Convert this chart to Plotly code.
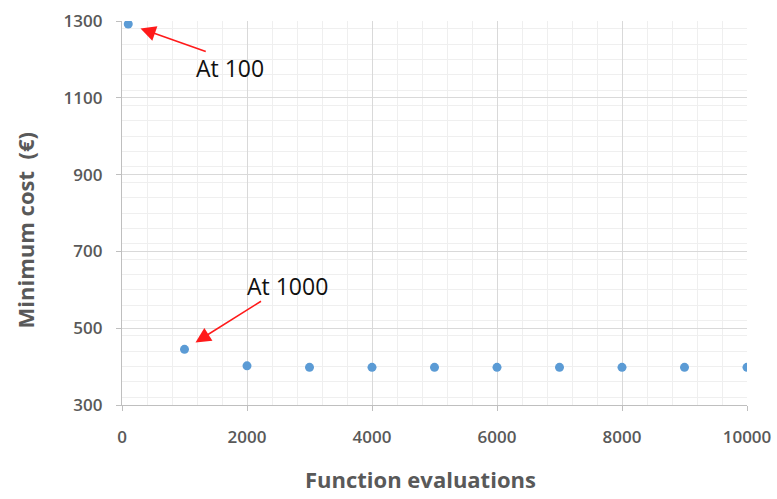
import plotly.graph_objects as go

# Minimum cost found versus number of function evaluations
evaluations = [100, 1000, 2000, 3000, 4000, 5000, 6000, 7000, 8000, 9000, 10000]
min_cost = [1292, 445, 402, 398, 398, 398, 398, 398, 398, 398, 398]

x_ticks = [0, 2000, 4000, 6000, 8000, 10000]
x_tick_text = ["0", "2000", "4000", "6000", "8000", "10000"]
y_ticks = [300, 500, 700, 900, 1100, 1300]
y_tick_text = ["300", "500", "700", "900", "1100", "1300"]

# callouts pointing at individual points
callout_idx = [0, 1]
callout_text = ["At 100", "At 1000"]

LABEL_GREY = "#595959"
MAJOR_GRID = "#d9d9d9"
MINOR_GRID = "#efefef"
FONT = "Open Sans"

fig = go.Figure()
fig.add_trace(go.Scatter(
    x=evaluations, y=min_cost, mode="markers",
    marker=dict(color="#5b9bd5", size=9),
    showlegend=False, hoverinfo="x+y",
))

arrow_offsets = [(79, 28), (78, -49)]
text_shifts = [(102, -44), (103, 63)]
annotations = []
for i, label, (ax, ay), (xs, ys) in zip(callout_idx, callout_text, arrow_offsets, text_shifts):
    annotations.append(dict(
        x=evaluations[i], y=min_cost[i], xref="x", yref="y",
        ax=ax, ay=ay, text="", showarrow=True,
        arrowhead=2, arrowsize=1.9, arrowwidth=1.6, arrowcolor="#ff1a1a",
        standoff=13,
    ))
    annotations.append(dict(
        x=evaluations[i], y=min_cost[i], xref="x", yref="y",
        text=label, showarrow=False, xshift=xs, yshift=ys,
        font=dict(family=FONT, size=23, color="#111111"),
    ))

annotations.append(dict(
    text="Function evaluations", xref="paper", yref="paper",
    x=0.477, y=-0.193, showarrow=False, xanchor="center", yanchor="middle",
    font=dict(family=FONT, size=22, color=LABEL_GREY, weight="bold"),
))
annotations.append(dict(
    text="Minimum cost  (€)", xref="paper", yref="paper",
    x=-0.155, y=0.455, showarrow=False, textangle=-90,
    xanchor="center", yanchor="middle",
    font=dict(family=FONT, size=22, color=LABEL_GREY, weight="bold"),
))

axis_common = dict(
    showgrid=True, gridcolor=MAJOR_GRID, gridwidth=1.3,
    showline=True, linecolor="#bfbfbf", linewidth=1.3,
    ticks="outside", ticklen=5, tickcolor="#bfbfbf",
    tickfont=dict(family=FONT, size=17, color=LABEL_GREY, weight=600),
    zeroline=False, mirror=False, automargin=False,
)

fig.update_xaxes(
    range=[0, 10000], tickvals=x_ticks, ticktext=x_tick_text, ticklabelstandoff=11,
    minor=dict(dtick=400, showgrid=True, gridcolor=MINOR_GRID, gridwidth=1),
    **axis_common,
)
fig.update_yaxes(
    range=[300, 1300], tickvals=y_ticks, ticktext=y_tick_text, ticklabelstandoff=10,
    minor=dict(dtick=40, showgrid=True, gridcolor=MINOR_GRID, gridwidth=1),
    **axis_common,
)

fig.update_layout(
    width=777, height=499,
    margin=dict(l=122, r=30, t=21, b=94),
    paper_bgcolor="white", plot_bgcolor="white",
    annotations=annotations,
)

fig.write_html("out.html")
